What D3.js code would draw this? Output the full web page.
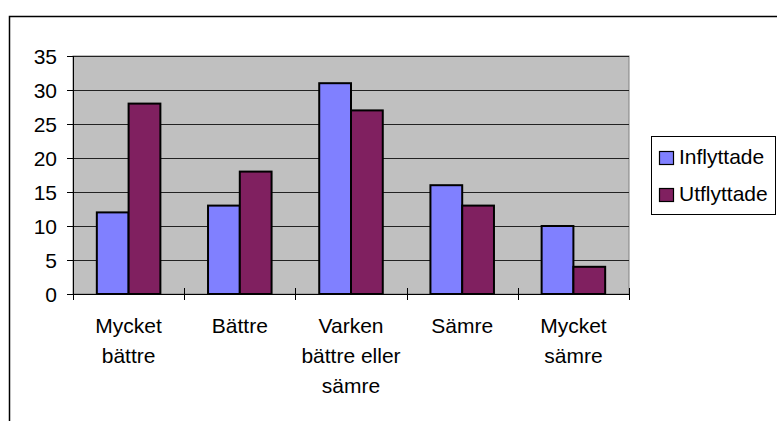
<!DOCTYPE html>
<html>
<head>
<meta charset="utf-8">
<script src="https://cdn.jsdelivr.net/npm/d3@7"></script>
<style>
  body { margin: 0; background: #fff; }
  text { font-family: "Liberation Sans", Arial, sans-serif; fill: #000; }
</style>
</head>
<body>
<div id="chart"></div>
<script>
// data
const categories = ["Mycket\nbättre", "Bättre", "Varken\nbättre eller\nsämre", "Sämre", "Mycket\nsämre"];
const seriesNames = ["Inflyttade", "Utflyttade"];
const inflyttade = [12, 13, 31, 16, 10];
const utflyttade = [28, 18, 27, 13, 4];
const yTicks = [0, 5, 10, 15, 20, 25, 30, 35];
const colors = ["#8080FF", "#802060"];

const W = 777, H = 421;
const plot = { left: 73, top: 56, right: 629, bottom: 294 };
const fontSize = 21;

let svg = d3.select("#chart")
    .append("svg")
    .attr("width", W)
    .attr("height", H);

// outer chart border (cut off on the right and bottom)
svg.append("path")
    .attr("d", "M9.5," + (H + 2) + "V16.5H" + (W + 2))
    .attr("fill", "none")
    .attr("stroke", "#000")
    .attr("stroke-width", 1.5);

let x = d3.scaleBand()
    .domain(categories)
    .range([plot.left, plot.right]);

let y = d3.scaleLinear()
    .domain([0, 35])
    .range([plot.bottom, plot.top]);

// plot area
svg.append("rect")
    .attr("x", plot.left)
    .attr("y", plot.top)
    .attr("width", plot.right - plot.left)
    .attr("height", plot.bottom - plot.top)
    .attr("fill", "#C0C0C0")
    .attr("stroke", "#808080")
    .attr("stroke-width", 1);

// y axis with gridlines
let yAxis = svg.append("g")
    .attr("transform", "translate(" + plot.left + ",0)")
    .call(d3.axisLeft(y).tickValues(yTicks).tickSize(6).tickPadding(10));
yAxis.select(".domain").remove();
yAxis.selectAll("line").attr("stroke", "#000");
yAxis.selectAll("text")
    .style("font-size", fontSize + "px")
    .style("font-family", "'Liberation Sans', Arial, sans-serif")
    .attr("fill", "#000")
    .attr("dy", "0.35em");

svg.append("g")
    .selectAll("line")
    .data(yTicks.filter(d => d > 0))
    .enter()
    .append("line")
    .attr("x1", plot.left)
    .attr("x2", plot.right)
    .attr("y1", d => Math.round(y(d)) + 0.5)
    .attr("y2", d => Math.round(y(d)) + 0.5)
    .attr("stroke", "#222")
    .attr("stroke-width", 1);

// bars
let bw = x.bandwidth() / 3.5;
let series = [inflyttade, utflyttade];

series.forEach(function (vals, s) {
    svg.append("g")
        .selectAll("rect")
        .data(vals)
        .enter()
        .append("rect")
        .attr("x", (d, i) => x(categories[i]) + 0.75 * bw + s * bw)
        .attr("y", d => y(d))
        .attr("width", bw)
        .attr("height", d => y(0) - y(d))
        .attr("fill", colors[s])
        .attr("stroke", "#000")
        .attr("stroke-width", 2);
});

// axes lines
svg.append("line")
    .attr("x1", plot.left + 0.5).attr("x2", plot.left + 0.5)
    .attr("y1", plot.top).attr("y2", plot.bottom + 6)
    .attr("stroke", "#000");
svg.append("line")
    .attr("x1", plot.left).attr("x2", plot.right + 0.5)
    .attr("y1", plot.bottom + 0.5).attr("y2", plot.bottom + 0.5)
    .attr("stroke", "#000");

// category boundary ticks (crossing the axis)
let bounds = categories.map(c => x(c)).concat([plot.right]);
svg.append("g")
    .selectAll("line")
    .data(bounds)
    .enter()
    .append("line")
    .attr("x1", d => Math.round(d) + 0.5)
    .attr("x2", d => Math.round(d) + 0.5)
    .attr("y1", plot.bottom - 6)
    .attr("y2", plot.bottom + 6)
    .attr("stroke", "#000");

// category labels
let catLabels = svg.append("g")
    .selectAll("text")
    .data(categories)
    .enter()
    .append("text")
    .attr("text-anchor", "middle")
    .style("font-size", fontSize + "px")
    .attr("transform", d => "translate(" + (x(d) + x.bandwidth() / 2) + ",333)");

catLabels.selectAll("tspan")
    .data(d => d.split("\n"))
    .enter()
    .append("tspan")
    .attr("x", 0)
    .attr("y", (d, i) => i * 30)
    .text(d => d);

// legend
let legend = svg.append("g");
legend.append("rect")
    .attr("x", 651.5)
    .attr("y", 136.5)
    .attr("width", 124)
    .attr("height", 78)
    .attr("fill", "#fff")
    .attr("stroke", "#000")
    .attr("stroke-width", 1);

let items = legend.selectAll(".item")
    .data(seriesNames)
    .enter()
    .append("g")
    .attr("class", "item")
    .attr("transform", (d, i) => "translate(0," + (i * 37) + ")");

items.append("rect")
    .attr("x", 659.5)
    .attr("y", 151.5)
    .attr("width", 14)
    .attr("height", 13)
    .attr("fill", (d, i) => colors[i])
    .attr("stroke", "#000")
    .attr("stroke-width", 1.2);

items.append("text")
    .attr("x", 679)
    .attr("y", 164)
    .style("font-size", fontSize + "px")
    .text(d => d);
</script>
</body>
</html>
